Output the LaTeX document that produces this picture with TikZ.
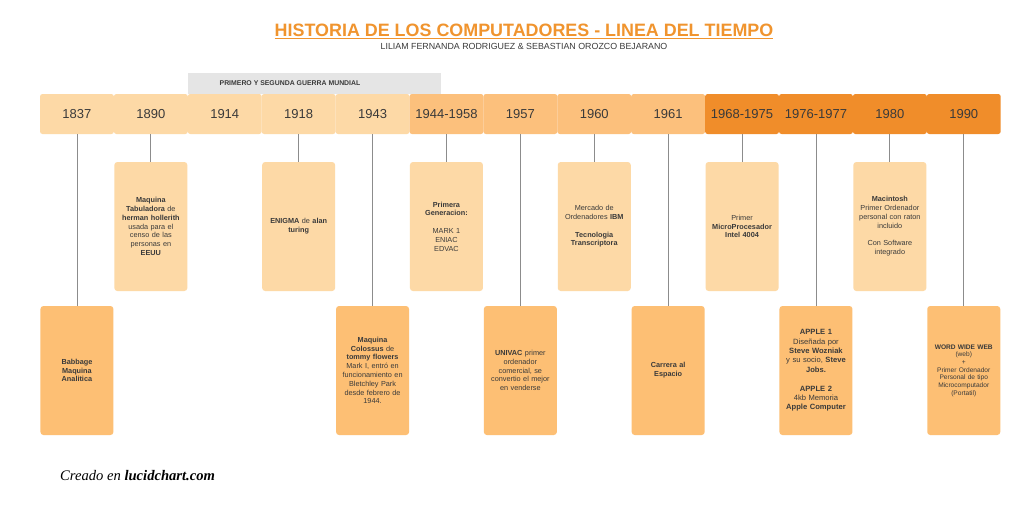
\documentclass[tikz,border=0pt]{standalone}
\usepackage{fontspec}
\setmainfont{Liberation Sans}
\newfontfamily\footserif{Liberation Serif}
\definecolor{lightc}{HTML}{FDD9A6}
\definecolor{midc}{HTML}{FCC07C}
\definecolor{darkc}{HTML}{F08D2A}
\definecolor{botc}{HTML}{FDBF74}
\definecolor{titlec}{HTML}{F0942E}
\definecolor{txtc}{HTML}{3A3A3A}
\definecolor{linec}{HTML}{8C8C8C}
\definecolor{bandc}{HTML}{E5E5E5}
\tikzset{
  yearcell/.style={minimum width=73.9pt, minimum height=40pt, rounded corners=2.5pt,
    inner sep=0pt, text=txtc, font=\fontsize{13}{15}\selectfont},
  topcard/.style={fill=lightc, minimum width=73pt, minimum height=129pt, rounded corners=3pt,
    inner sep=1pt, align=center, text width=70pt, text=txtc, font=\fontsize{7.3}{8.8}\selectfont},
  botcard/.style={topcard, fill=botc},
  conn/.style={draw=linec, line width=0.8pt}
}
\begin{document}
\begin{tikzpicture}[x=1pt,y=-1pt]
\useasboundingbox (0,0) rectangle (1032,504);
\fill[white] (0,0) rectangle (1032,504);
% title
\node[font=\bfseries\fontsize{17.9}{20}\selectfont, text=titlec, inner sep=0pt] (title) at (524,31.5) {\underline{HISTORIA DE LOS COMPUTADORES - LINEA DEL TIEMPO}};
\node[font=\fontsize{8.85}{10}\selectfont, text=txtc, inner sep=0pt] (sub) at (524,46) {LILIAM FERNANDA RODRIGUEZ \& SEBASTIAN OROZCO BEJARANO};
% banner
\fill[bandc] (188,73) rectangle (441,93.5);
\node[font=\bfseries\fontsize{6.9}{8}\selectfont, text=txtc, inner sep=0pt] (band) at (290,83) {PRIMERO Y SEGUNDA GUERRA MUNDIAL};
% year cells
\foreach \i/\yr/\col in {0/1837/lightc,1/1890/lightc,2/1914/lightc,3/1918/lightc,4/1943/lightc,
  5/1944-1958/midc,6/1957/midc,7/1960/midc,8/1961/midc,
  9/1968-1975/darkc,10/1976-1977/darkc,11/1980/darkc,12/1990/darkc}{
  \node[yearcell, fill=\col] (y\i) at ({40+73.9*\i+36.95},114) {\yr};
}
% top cards
\node[topcard] (c1) at ({40+73.9*1+36.95},226.5) {\textbf{Maquina}\\\textbf{Tabuladora} de\\\textbf{herman hollerith}\\usada para el\\censo de las\\personas en\\\textbf{EEUU}};
\node[topcard] (c3) at ({40+73.9*3+36.95},226.5) {\textbf{ENIGMA} de \textbf{alan}\\\textbf{turing}};
\node[topcard] (c5) at ({40+73.9*5+36.95},226.5) {\textbf{Primera}\\\textbf{Generacion:}\\[8.8pt]MARK 1\\ENIAC\\EDVAC};
\node[topcard] (c7) at ({40+73.9*7+36.95},226.5) {Mercado de\\Ordenadores \textbf{IBM}\\[8.8pt]\textbf{Tecnologia}\\\textbf{Transcriptora}};
\node[topcard] (c9) at ({40+73.9*9+36.95},226.5) {Primer\\\textbf{MicroProcesador}\\\textbf{Intel 4004}};
\node[topcard] (c11) at ({40+73.9*11+36.95},226.5) {\textbf{Macintosh}\\Primer Ordenador\\personal con raton\\incluido\\[8.8pt]Con Software\\integrado};
% bottom cards
\node[botcard] (c0) at ({40+73.9*0+36.95},370.5) {\textbf{Babbage}\\\textbf{Maquina}\\\textbf{Analitica}};
\node[botcard] (c4) at ({40+73.9*4+36.95},370.5) {\textbf{Maquina}\\\textbf{Colossus} de\\\textbf{tommy flowers}\\Mark I, entró en\\funcionamiento en\\Bletchley Park\\desde febrero de\\1944.};
\node[botcard] (c6) at ({40+73.9*6+36.95},370.5) {\textbf{UNIVAC} primer\\ordenador\\comercial, se\\convertio el mejor\\en venderse};
\node[botcard] (c8) at ({40+73.9*8+36.95},370.5) {\textbf{Carrera al}\\\textbf{Espacio}};
\node[botcard, font=\fontsize{7.6}{9.4}\selectfont] (c10) at ({40+73.9*10+36.95},370.5) {\textbf{APPLE 1}\\Diseñada por\\\textbf{Steve Wozniak}\\y su socio, \textbf{Steve}\\\textbf{Jobs.}\\[9.4pt]\textbf{APPLE 2}\\4kb Memoria\\\textbf{Apple Computer}};
\node[botcard, font=\fontsize{6.6}{7.7}\selectfont] (c12) at ({40+73.9*12+36.95},370.5) {\textbf{WORD WIDE WEB}\\(web)\\+\\Primer Ordenador\\Personal de tipo\\Microcomputador\\(Portatil)};
% connectors
\foreach \i in {0,1,3,4,5,6,7,8,9,10,11,12}{
  \draw[conn] (y\i.south) -- (c\i.north);
}
% footer
\node[anchor=west, font=\footserif\itshape\fontsize{14.6}{16}\selectfont, text=black, inner sep=0pt] (foot) at (60,476) {Creado en \textbf{lucidchart.com}};
\end{tikzpicture}
\end{document}
